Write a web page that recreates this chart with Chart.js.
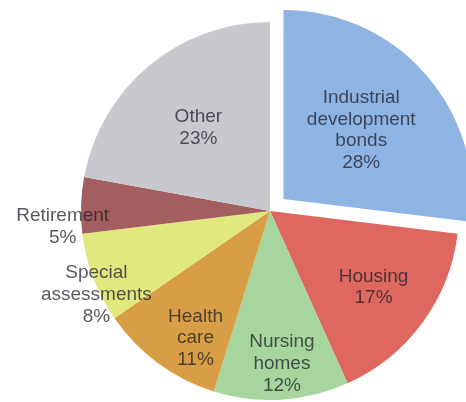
<!DOCTYPE html>
<html>
<head>
<meta charset="utf-8">
<script src="https://cdn.jsdelivr.net/npm/chart.js@4"></script>
<style>
  html, body { margin: 0; padding: 0; background: #fff; }
  #wrap { width: 466px; height: 402px; }
</style>
</head>
<body>
<div id="wrap"><canvas id="pie"></canvas></div>
<script>
const categories = [
  ["Industrial", "development", "bonds"],
  ["Housing"],
  ["Nursing", "homes"],
  ["Health", "care"],
  ["Special", "assessments"],
  ["Retirement"],
  ["Other"]
];
const shares = [28, 17, 12, 11, 8, 5, 23];
const sliceColors = ["#8eb4e3", "#de685f", "#a6d69d", "#d89e45", "#e0e87f", "#a35e5f", "#c8c9ce"];

// where each label sits: fraction of radius, angle nudge in degrees
const labelSpots = [[0.645, 0], [0.68, 0], [0.81, -1], [0.78, -6], [1.02, -5], [1.10, -6], [0.58, -1]];

const sliceLabels = {
  id: "sliceLabels",
  afterDatasetsDraw(chart) {
    const ctx = chart.ctx;
    const arcs = chart.getDatasetMeta(0).data;
    ctx.save();
    ctx.font = "19px 'Liberation Sans', Arial, sans-serif";
    ctx.fillStyle = "rgba(30, 30, 40, 0.75)";
    ctx.textAlign = "center";
    ctx.textBaseline = "middle";
    arcs.forEach((arc, i) => {
      const p = arc.getProps(["x", "y", "startAngle", "endAngle", "outerRadius"], true);
      const mid = (p.startAngle + p.endAngle) / 2 + labelSpots[i][1] * Math.PI / 180;
      const r = p.outerRadius * labelSpots[i][0];
      const cx = p.x + Math.cos(mid) * r;
      const cy = p.y + Math.sin(mid) * r;
      const lines = categories[i].concat([shares[i] + "%"]);
      const lh = 21.7;
      lines.forEach((t, k) => {
        ctx.fillText(t, cx, cy + (k - (lines.length - 1) / 2) * lh);
      });
    });
    ctx.restore();
  }
};

new Chart(document.getElementById("pie"), {
  type: "pie",
  data: {
    labels: categories.map(c => c.join(" ")),
    datasets: [{
      data: shares,
      backgroundColor: sliceColors,
      borderWidth: 0,
      // chart.js moves an arc by offset/4
      offset: [72, 0, 0, 0, 0, 0, 0]
    }]
  },
  options: {
    responsive: true,
    maintainAspectRatio: false,
    animation: false,
    radius: 189,
    layout: { padding: { left: 74, right: 0, top: 20, bottom: 0 } },
    plugins: {
      legend: { display: false },
      tooltip: { enabled: false }
    }
  },
  plugins: [sliceLabels]
});
</script>
</body>
</html>
